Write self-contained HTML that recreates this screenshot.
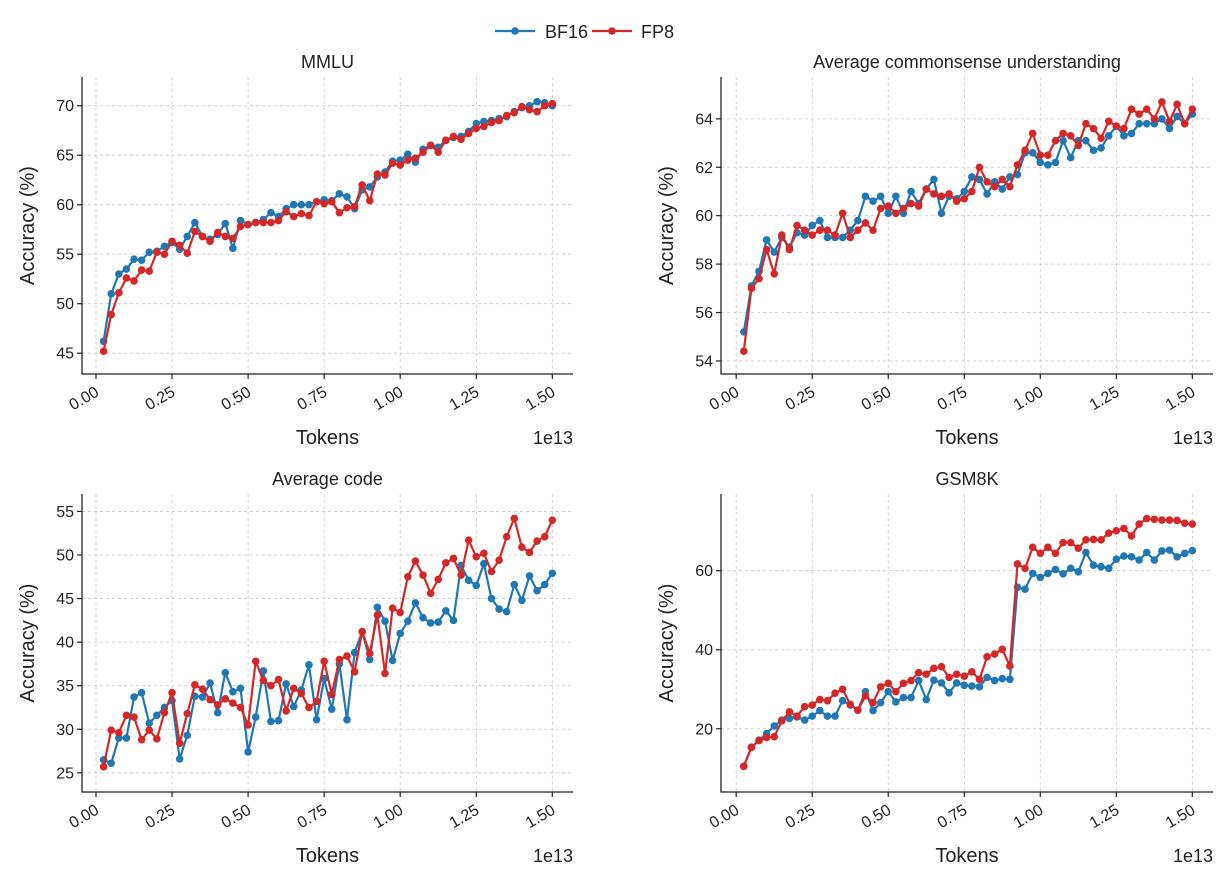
<!DOCTYPE html>
<html><head><meta charset="utf-8">
<style>
html,body{margin:0;padding:0;background:#fff;}
svg{display:block;font-family:"Liberation Sans","DejaVu Sans",sans-serif;}
</style></head>
<body>
<svg id="fig" width="1232" height="875" viewBox="0 0 1232 875">
  <g>
    <g>
      <line x1="495" y1="31" x2="535" y2="31" stroke="#1f77b4" stroke-width="2.2"/>
      <circle cx="515" cy="31" r="3.8" fill="#1f77b4"/>
      <text x="545" y="38" font-size="18" fill="#222">BF16</text>
    </g>
    <g>
      <line x1="592" y1="31" x2="632" y2="31" stroke="#d62728" stroke-width="2.2"/>
      <circle cx="612" cy="31" r="3.8" fill="#d62728"/>
      <text x="641" y="38" font-size="18" fill="#222">FP8</text>
    </g>
  </g>
</svg>
<script>
const tokens = [];
for (let i = 1; i <= 60; i++) tokens.push(+(0.025 * i).toFixed(3));
const xTicks = [0, 0.25, 0.5, 0.75, 1.0, 1.25, 1.5];
const xTickLabels = ["0.00","0.25","0.50","0.75","1.00","1.25","1.50"];

const mmluBF16 = [46.2,51,53,53.5,54.5,54.4,55.2,55.3,55.8,56.2,55.5,56.8,58.2,56.8,56.5,57,58.1,55.6,58.4,58,58.2,58.5,59.2,58.8,59.6,60,60,60,60.3,60.5,60.4,61.1,60.8,59.6,61.5,61.8,62.8,63.3,64.4,64.5,65.1,64.3,65.6,66,65.8,66.5,66.8,66.9,67.4,68.2,68.4,68.5,68.7,68.9,69.4,69.8,70,70.4,70.3,70];
const mmluFP8 = [45.2,48.9,51.1,52.6,52.3,53.4,53.3,55.2,55,56.3,55.9,55.1,57.3,56.8,56.3,57.2,56.8,56.6,57.8,58,58.2,58.2,58.2,58.4,59.3,58.8,59.1,58.9,60.3,60.1,60.3,59.2,59.7,59.8,62,60.4,63.1,63,64.2,64,64.5,64.7,65.3,66,65.3,66.5,66.9,66.6,67.2,67.7,67.9,68.3,68.5,69,69.3,69.9,69.6,69.4,70,70.2];
const mmluTicks = [45,50,55,60,65,70];

const csBF16 = [55.2,57.1,57.7,59,58.5,59.1,58.7,59.3,59.2,59.6,59.8,59.1,59.1,59.1,59.4,59.8,60.8,60.6,60.8,60.1,60.8,60.1,61,60.5,61.1,61.5,60.1,60.8,60.7,61,61.6,61.5,60.9,61.4,61.1,61.6,61.7,62.6,62.6,62.2,62.1,62.2,63.1,62.4,63.1,63.1,62.7,62.8,63.3,63.7,63.3,63.4,63.8,63.8,63.8,64,63.6,64.1,63.8,64.2];
const csFP8 = [54.4,57,57.4,58.6,57.6,59.2,58.6,59.6,59.4,59.2,59.4,59.4,59.2,60.1,59.1,59.4,59.7,59.4,60.3,60.4,60.1,60.3,60.5,60.4,61.1,60.9,60.8,60.9,60.6,60.7,61,62,61.4,61.2,61.5,61.2,62.1,62.7,63.4,62.5,62.5,63.1,63.4,63.3,62.9,63.8,63.6,63.2,63.9,63.7,63.6,64.4,64.2,64.4,64,64.7,63.9,64.6,63.8,64.4];
const csTicks = [54,56,58,60,62,64];

const codeBF16 = [26.5,26.1,29,29,33.7,34.2,30.7,31.6,32.5,33.3,26.6,29.3,33.8,33.7,35.3,31.9,36.5,34.3,34.7,27.4,31.4,36.7,30.9,31,35.2,32.6,34.5,37.4,31.1,35.8,32.3,37.5,31.1,38.8,41.2,38,44,42.4,37.9,41,42.4,44.5,42.8,42.2,42.3,43.6,42.5,48.8,47.1,46.5,49,45,43.8,43.5,46.6,44.8,47.6,45.9,46.6,47.9];
const codeFP8 = [25.7,29.9,29.6,31.6,31.4,28.8,29.9,28.9,31.9,34.2,28.4,31.8,35.1,34.6,33.4,32.8,33.5,33,32.5,30.5,37.8,35.6,35,35.7,32.1,34.7,34.1,32.5,33.2,37.8,34,38,38.4,36.6,41.2,38.7,43.1,36.4,43.9,43.4,47.5,49.3,47.7,45.6,47.2,49.1,49.6,47.7,51.7,49.8,50.2,48.1,49.4,52.1,54.2,50.9,50.3,51.6,52.1,54];
const codeTicks = [25,30,35,40,45,50,55];

const gsmBF16 = [10.5,15.3,17.1,18.8,20.7,22.2,22.6,23,22.2,23.2,24.6,23.2,23.2,27.1,26,24.7,29.4,24.6,26.6,29.4,26.8,27.9,27.9,32.2,27.4,32.3,31.6,29.1,31.6,31,30.8,30.6,33,32.2,32.7,32.5,55.8,55.3,59.3,58.3,59.3,60.3,59.2,60.6,59.7,64.6,61.4,61,60.6,62.9,63.7,63.5,62.7,64.6,62.7,65,65.2,63.5,64.4,65.1];
const gsmFP8 = [10.5,15.3,17,17.8,18,22,24.3,23.2,25.6,26,27.4,27.1,29,30,26.2,24.7,28.3,26.6,30.6,31.5,29.4,31.5,32.2,34.2,33.8,35.3,35.7,33,33.8,33.3,34.4,32.5,38.2,38.9,40.1,35.9,61.7,60.6,65.9,64.4,65.9,64.4,67.1,67.1,65.7,67.8,67.9,67.8,69.5,70.1,70.7,68.8,71.8,73.2,73,72.8,72.8,72.7,72,71.8];
const gsmTicks = [20,40,60];

const NS = "http://www.w3.org/2000/svg";
const svg = document.getElementById('fig');
function mk(tag, attrs, parent) {
  const e = document.createElementNS(NS, tag);
  for (const k in attrs) e.setAttribute(k, attrs[k]);
  parent.appendChild(e);
  return e;
}

function panel(cfg) {
  const g = mk('g', {}, svg);
  
  
  const L = cfg.left, R = cfg.right, T = cfg.top, B = cfg.bottom;
  const xs = v => L + (v - cfg.xmin) / (cfg.xmax - cfg.xmin) * (R - L);
  const ys = v => B - (v - cfg.ymin) / (cfg.ymax - cfg.ymin) * (B - T);
  xTicks.forEach(t => {
    const l = mk('line', {x1: xs(t), x2: xs(t), y1: T, y2: B, stroke: '#c8c8c8', 'stroke-width': 0.8, 'stroke-dasharray': '3,3'}, g);
    
    
  });
  cfg.yTicks.forEach(t => {
    const l = mk('line', {x1: L, x2: R, y1: ys(t), y2: ys(t), stroke: '#c8c8c8', 'stroke-width': 0.8, 'stroke-dasharray': '3,3'}, g);
    
    
  });
  cfg.series.forEach(s => {
    const sg = mk('g', {}, g);
    
    
    const pts = s.values.map((v, i) => xs(tokens[i]).toFixed(2) + ',' + ys(v).toFixed(2)).join(' ');
    const pl = mk('polyline', {points: pts, fill: 'none', stroke: s.color, 'stroke-width': 2.2, 'stroke-linejoin': 'round'}, sg);
    
    
    s.values.forEach((v, i) => {
      const c = mk('circle', {cx: xs(tokens[i]), cy: ys(v), r: 3.8, fill: s.color}, sg);
      
      
    });
  });
  const sp = mk('path', {d: `M${L},${T} L${L},${B} L${R},${B}`, fill: 'none', stroke: '#222', 'stroke-width': 1.3}, g);
  
  
  xTicks.forEach((t, i) => {
    mk('line', {x1: xs(t), x2: xs(t), y1: B, y2: B + 5, stroke: '#222', 'stroke-width': 1.2}, g);
    const tx = mk('text', {x: xs(t) + 4, y: B + 21, 'font-size': 16, fill: '#222', 'text-anchor': 'end', transform: `rotate(-30 ${xs(t) + 4} ${B + 21})`}, g);
    tx.textContent = xTickLabels[i];
    
    
  });
  cfg.yTicks.forEach(t => {
    mk('line', {x1: L - 5, x2: L, y1: ys(t), y2: ys(t), stroke: '#222', 'stroke-width': 1.2}, g);
    const tx = mk('text', {x: L - 8, y: ys(t) + 5.5, 'font-size': 16, fill: '#222', 'text-anchor': 'end'}, g);
    tx.textContent = String(t);
    
    
  });
  const title = mk('text', {x: (L + R) / 2, y: T - 9, 'font-size': 18, fill: '#222', 'text-anchor': 'middle'}, g);
  title.textContent = cfg.title;
  
  
  const xl = mk('text', {x: (L + R) / 2, y: B + 70, 'font-size': 20, fill: '#222', 'text-anchor': 'middle'}, g);
  xl.textContent = 'Tokens';
  
  
  const ex = mk('text', {x: R, y: B + 70, 'font-size': 18, fill: '#222', 'text-anchor': 'end'}, g);
  ex.textContent = '1e13';
  
  
  const cy = (T + B) / 2, cx = L - 48;
  const yl = mk('text', {x: cx, y: cy, 'font-size': 20, fill: '#222', 'text-anchor': 'middle', transform: `rotate(-90 ${cx} ${cy})`}, g);
  yl.textContent = 'Accuracy (%)';
  
  
}

const BLUE = '#1f77b4', RED = '#d62728';
panel({name: 'mmlu-panel', title: 'MMLU', left: 82, right: 573, top: 77, bottom: 374,
  xmin: -0.046, xmax: 1.568, ymin: 42.9, ymax: 72.9, yTicks: mmluTicks,
  series: [{name: 'bf16-series', values: mmluBF16, color: BLUE}, {name: 'fp8-series', values: mmluFP8, color: RED}]});
panel({name: 'commonsense-panel', title: 'Average commonsense understanding', left: 721, right: 1213, top: 77, bottom: 374,
  xmin: -0.050, xmax: 1.568, ymin: 53.46, ymax: 65.73, yTicks: csTicks,
  series: [{name: 'bf16-series', values: csBF16, color: BLUE}, {name: 'fp8-series', values: csFP8, color: RED}]});
panel({name: 'code-panel', title: 'Average code', left: 82, right: 573, top: 494, bottom: 792,
  xmin: -0.046, xmax: 1.568, ymin: 22.8, ymax: 57.0, yTicks: codeTicks,
  series: [{name: 'bf16-series', values: codeBF16, color: BLUE}, {name: 'fp8-series', values: codeFP8, color: RED}]});
panel({name: 'gsm8k-panel', title: 'GSM8K', left: 721, right: 1213, top: 494, bottom: 792,
  xmin: -0.050, xmax: 1.568, ymin: 4.0, ymax: 79.4, yTicks: gsmTicks,
  series: [{name: 'bf16-series', values: gsmBF16, color: BLUE}, {name: 'fp8-series', values: gsmFP8, color: RED}]});
</script>
</body></html>
